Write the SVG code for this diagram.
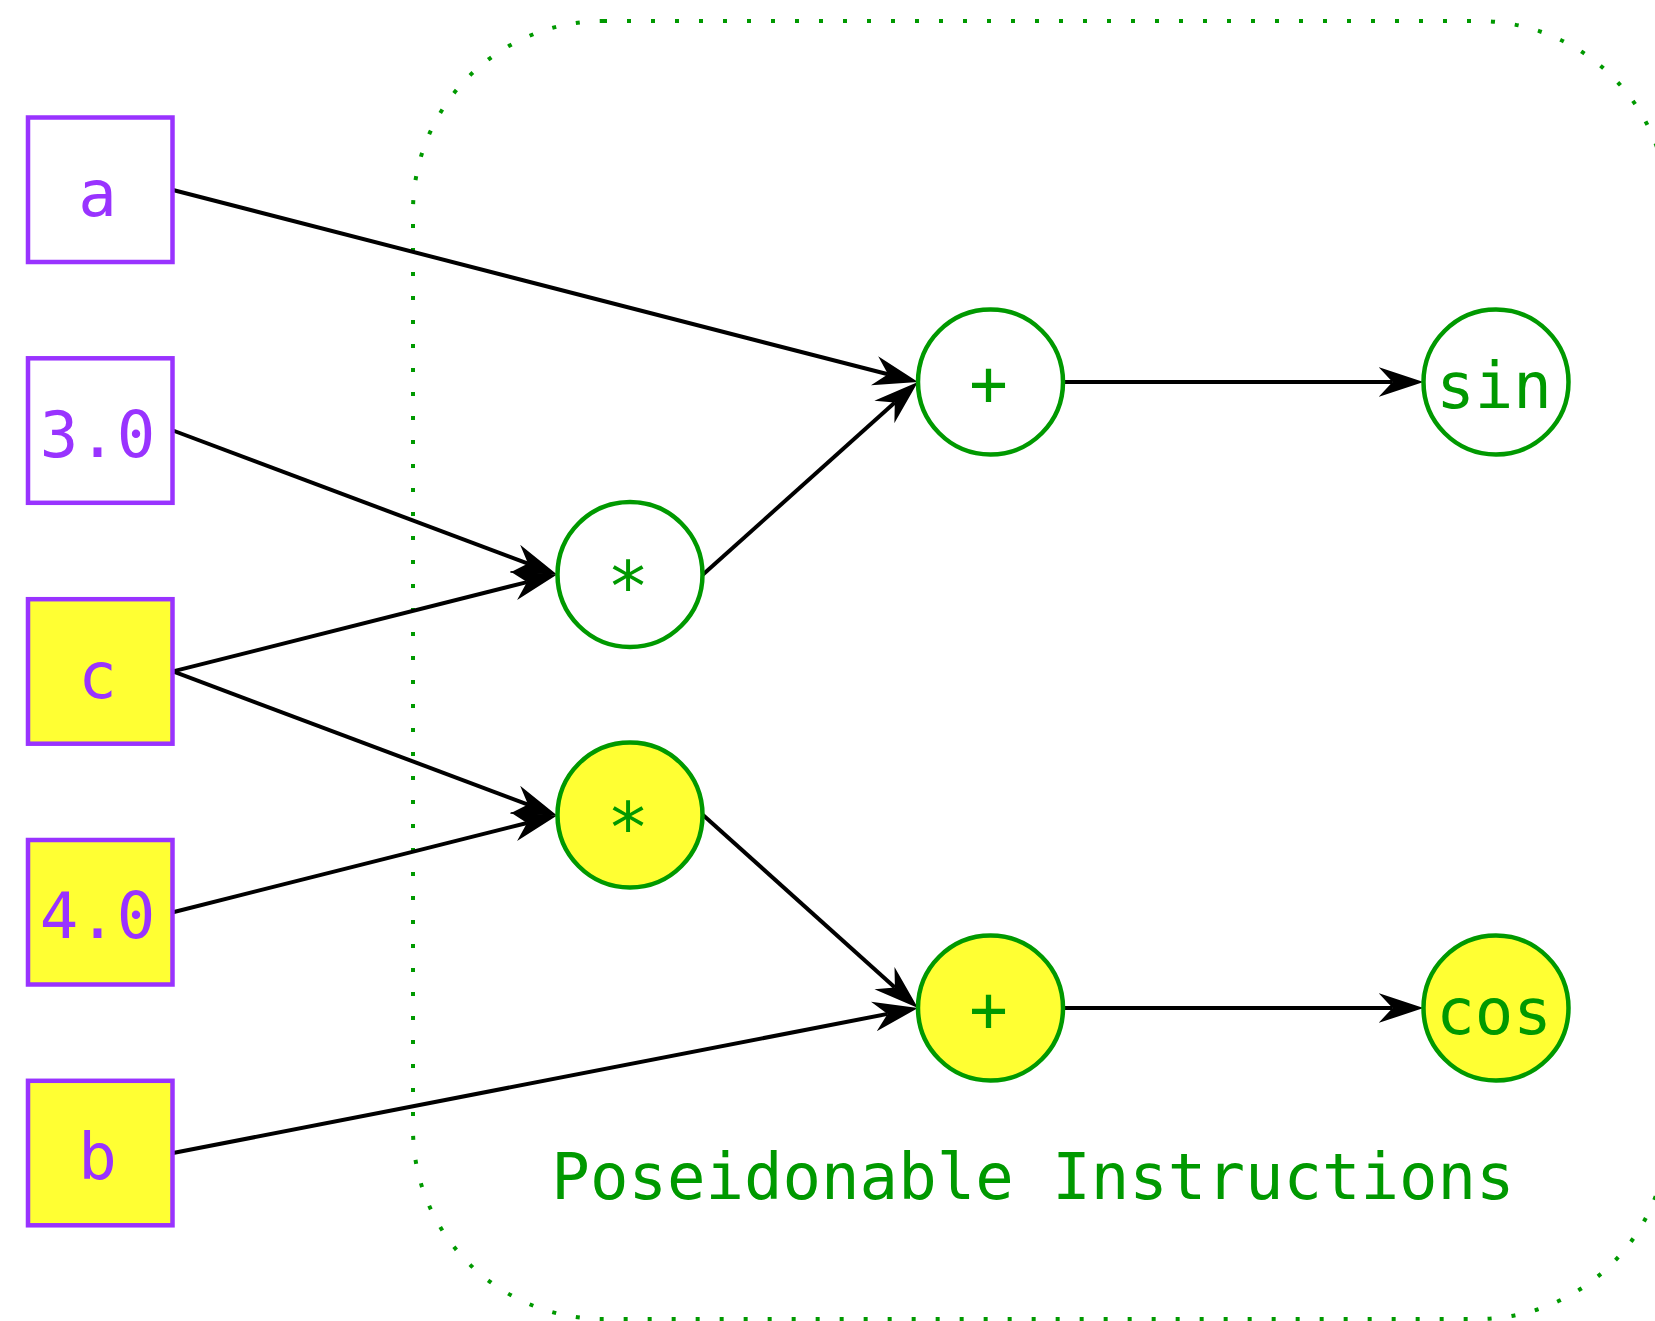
<svg xmlns="http://www.w3.org/2000/svg" width="1655" height="1321" viewBox="0 0 1655 1321">
  <style>
    .box { stroke: #9933ff; stroke-width: 4.5; }
    .plain { fill: #ffffff; }
    .hot { fill: #ffff33; }
    .op { stroke: #009900; stroke-width: 4.5; }
    .in { font-family: "DejaVu Sans Mono", "Liberation Mono", monospace; font-size: 64px; fill: #9933ff; text-anchor: middle; }
    .ot { font-family: "DejaVu Sans Mono", "Liberation Mono", monospace; font-size: 64px; fill: #009900; text-anchor: middle; }
    .star { font-size: 70px; }
    .edge { stroke: #000000; stroke-width: 4; fill: none; marker-end: url(#vee); }
    .cluster { fill: none; stroke: #009900; stroke-width: 4; stroke-dasharray: 4 20; }
  </style>
  <defs>
    <!-- vee arrowhead: notch sits on the line end, tip 31px beyond -->
    <marker id="vee" markerUnits="userSpaceOnUse" markerWidth="46" markerHeight="32" viewBox="0 0 46 32" refX="14" refY="16" orient="auto">
      <path d="M0,1 L45,16 L0,31 L14,16 Z" fill="#000000"/>
    </marker>
  </defs>

  <rect width="1655" height="1321" fill="#ffffff"/>

  <!-- cluster outline -->
  <g id="cluster">
    <rect class="cluster" x="413" y="21" width="1255" height="1298" rx="190" ry="190"/>
    <text class="ot" x="1033" y="1199">Poseidonable Instructions</text>
  </g>

  <!-- connectors -->
  <g id="edges">
    <line class="edge" x1="173" y1="190" x2="888" y2="374.3"/>
    <line class="edge" x1="703" y1="574.5" x2="894.8" y2="402.6"/>
    <line class="edge" x1="173" y1="430.5" x2="528" y2="563.6"/>
    <line class="edge" x1="173" y1="671.4" x2="527" y2="582.1"/>
    <line class="edge" x1="173" y1="671.4" x2="528" y2="804.6"/>
    <line class="edge" x1="173" y1="912.2" x2="527" y2="823"/>
    <line class="edge" x1="703" y1="815" x2="894.9" y2="987.4"/>
    <line class="edge" x1="173" y1="1153" x2="887.6" y2="1013.9"/>
    <line class="edge" x1="1063" y1="382" x2="1392.5" y2="382"/>
    <line class="edge" x1="1063" y1="1008" x2="1392.5" y2="1008"/>
  </g>

  <!-- inputs -->
  <g id="in_a">
    <rect class="box plain" x="28" y="117.5" width="144.5" height="144.5"/>
    <text class="in" x="97.5" y="216">a</text>
  </g>
  <g id="in_3">
    <rect class="box plain" x="28" y="358.3" width="144.5" height="144.5"/>
    <text class="in" x="97.5" y="456.5">3.0</text>
  </g>
  <g id="in_c">
    <rect class="box hot" x="28" y="599.2" width="144.5" height="144.5"/>
    <text class="in" x="97.5" y="697.5">c</text>
  </g>
  <g id="in_4">
    <rect class="box hot" x="28" y="840" width="144.5" height="144.5"/>
    <text class="in" x="97.5" y="938">4.0</text>
  </g>
  <g id="in_b">
    <rect class="box hot" x="28" y="1080.8" width="144.5" height="144.5"/>
    <text class="in" x="97.5" y="1179">b</text>
  </g>

  <!-- operations -->
  <g id="mul_top">
    <circle class="op plain" cx="630" cy="574.5" r="72.5"/>
    <text class="ot star" x="628" y="611">*</text>
  </g>
  <g id="mul_bot">
    <circle class="op hot" cx="630" cy="815" r="72.5"/>
    <text class="ot star" x="628" y="851.5">*</text>
  </g>
  <g id="add_top">
    <circle class="op plain" cx="990.5" cy="382" r="72.5"/>
    <text class="ot" x="988.5" y="406">+</text>
  </g>
  <g id="add_bot">
    <circle class="op hot" cx="990.5" cy="1008" r="72.5"/>
    <text class="ot" x="988.5" y="1032">+</text>
  </g>
  <g id="sin">
    <circle class="op plain" cx="1496" cy="382" r="72.5"/>
    <text class="ot" x="1494" y="408">sin</text>
  </g>
  <g id="cos">
    <circle class="op hot" cx="1496" cy="1008" r="72.5"/>
    <text class="ot" x="1494" y="1034">cos</text>
  </g>
</svg>
